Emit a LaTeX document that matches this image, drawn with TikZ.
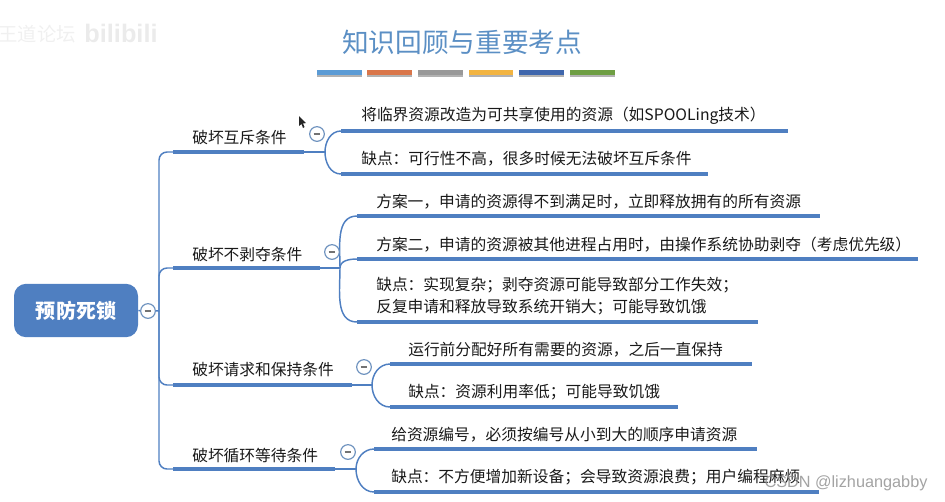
\documentclass[tikz,border=0pt]{standalone}
\usepackage{fontspec}
\setmainfont{Noto Sans CJK SC}
\newfontfamily\markfont{Liberation Sans}
\usetikzlibrary{positioning}
\definecolor{mapBlue}{HTML}{4F7FC1}
\definecolor{titleBlue}{HTML}{5B8FC4}
\definecolor{foldBlue}{HTML}{6F93BF}
\tikzset{
  branchLine/.style={draw=mapBlue,line width=2.9pt},
  leafLine/.style={draw=mapBlue,line width=2.9pt},
  thinLine/.style={draw=mapBlue,line width=1.1pt},
  mapText/.style={anchor=west,inner sep=0pt,yshift=-.9pt,font=\fontsize{11.8}{16.5}\selectfont,align=left,text=black!90},
  foldMark/.style={circle,draw=foldBlue,line width=.9pt,fill=white,minimum size=11pt,inner sep=0pt,
    path picture={\draw[black!55,line width=.8pt] ([xshift=-2.6pt]path picture bounding box.center) -- ([xshift=2.6pt]path picture bounding box.center);}},
}
\newcommand{\mapNode}{\node[mapText]}
\newcommand{\foldNode}{\node[foldMark]}
\begin{document}
\begin{tikzpicture}[x=0.75pt,y=-0.75pt]
    \useasboundingbox (0,0) rectangle (945,501);

    % title and colour bars
    \node (title) at (462,42) [inner sep=0pt,text=titleBlue,font=\fontsize{20}{24}\selectfont] {知识回顾与重要考点};
    \foreach \xa/\xb/\col in {317/362/5B9BD5,367/412/D9764A,418/463/999999,469/513/F2B441,519/564/3F66AC,570/615/6E9E43}
             {
               \definecolor{barCol}{HTML}{\col}
               \fill[black!30] (\xa,72) rectangle (\xb,77);
               \fill[barCol] (\xa,70) rectangle (\xb,75);
             };

    % root
    \node (root) at (76,310.5) [rounded corners=9pt,fill=mapBlue,minimum width=93pt,minimum height=40pt,inner sep=0pt,
        text=white,font=\fontsize{15}{18}\bfseries\selectfont] {预防死锁};
    \coordinate (hub) at (159,311);
    \draw[thinLine] (root.east) -- (hub);

    % branches: start, end of thick line, fork
    \foreach \n/\y/\xe/\xf in {1/152/304/325,2/268/320/340,3/385/352/372,4/469/335/356}
             {
               \coordinate (b\n) at (173,\y);
               \coordinate (e\n) at (\xe,\y);
               \coordinate (f\n) at (\xf,\y);
               \draw[rounded corners=6pt,thinLine] (hub) |- (b\n);
               \draw[thinLine] (e\n) -- (f\n);
               \draw[branchLine] (b\n) -- (e\n);
             };

    \mapNode (t1) at (192,136) {破坏互斥条件};
    \mapNode (t2) at (192,253) {破坏不剥夺条件};
    \mapNode (t3) at (192,368) {破坏请求和保持条件};
    \mapNode (t4) at (192,454) {破坏循环等待条件};

    % leaves: name, fork, start, end, height, way out of the fork
    \foreach \n/\f/\xs/\xe/\y/\o in {a/1/341/788/131/90,b/1/341/708/174/-90,c/2/357/820/216/90,d/2/357/918/259/90,e/2/357/758/322/-90,f/3/390/752/364/90,g/3/390/678/407/-90,h/4/374/757/449/90,i/4/374/819/492/-90}
             {
               \coordinate (ls\n) at (\xs,\y);
               \coordinate (le\n) at (\xe,\y);
               \draw[thinLine] (f\f) to[out=\o,in=180] (ls\n);
               \draw[leafLine] (ls\n) -- (le\n);
             };

    \mapNode (la) at (361,115) {将临界资源改造为可共享使用的资源（如SPOOLing技术）};
    \mapNode (lb) at (361,158) {缺点：可行性不高，很多时候无法破坏互斥条件};
    \mapNode (lc) at (376,200) {方案一，申请的资源得不到满足时，立即释放拥有的所有资源};
    \mapNode (ld) at (376,243) {方案二，申请的资源被其他进程占用时，由操作系统协助剥夺（考虑优先级）};
    \mapNode (le) at (376,295) {缺点：实现复杂；剥夺资源可能导致部分工作失效；\\反复申请和释放导致系统开销大；可能导致饥饿};
    \mapNode (lf) at (408,348) {运行前分配好所有需要的资源，之后一直保持};
    \mapNode (lg) at (408,391) {缺点：资源利用率低；可能导致饥饿};
    \mapNode (lh) at (391,433) {给资源编号，必须按编号从小到大的顺序申请资源};
    \mapNode (li) at (391,476) {缺点：不方便增加新设备；会导致资源浪费；用户编程麻烦};

    % fold marks
    \foldNode (m0) at (148,311) {};
    \foldNode (m1) at (317,134) {};
    \foldNode (m2) at (332,252) {};
    \foldNode (m3) at (364,367) {};
    \foldNode (m4) at (348,452) {};

    % mouse pointer
    \fill[black!85] (299,116) -- (299,126) -- (301.5,124) -- (303,128) -- (304.5,127) -- (303,123.5) -- (306,123) -- cycle;

    % watermarks
    \node (markA) at (37,34) [inner sep=0pt,text=black!6,font=\fontsize{14.5}{17}\selectfont] {王道论坛};
    \node (markB) at (121,33) [inner sep=0pt,text=black!8,font=\fontsize{19}{22}\bfseries\markfont] {bilibili};
    \node (markC) at (846,483) [inner sep=0pt,text=black!45,text opacity=.8,font=\fontsize{12.2}{14}\markfont] {CSDN @lizhuangabby};

\end{tikzpicture}
\end{document}
